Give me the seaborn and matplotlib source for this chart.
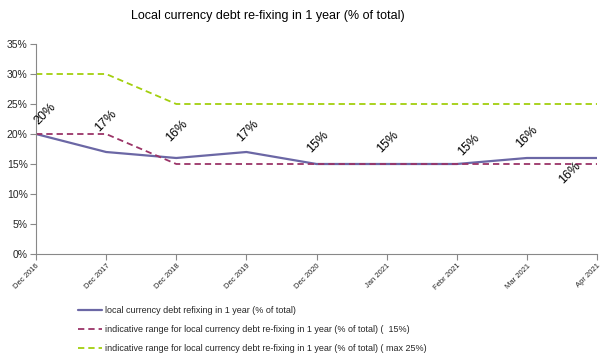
import matplotlib
matplotlib.use("Agg")
import matplotlib.pyplot as plt
import seaborn as sns
import pandas as pd
from matplotlib.ticker import FuncFormatter

# Data
periods = ["Dec 2016", "Dec 2017", "Dec 2018", "Dec 2019", "Dec 2020",
           "Jan 2021", "Febr 2021", "Mar 2021", "Apr 2021"]
refixing_share = [20, 17, 16, 17, 15, 15, 15, 16, 16]
range_min = [20, 20, 15, 15, 15, 15, 15, 15, 15]
range_max = [30, 30, 25, 25, 25, 25, 25, 25, 25]

series_names = [
    "local currency debt refixing in 1 year (% of total)",
    "indicative range for local currency debt re-fixing in 1 year (% of total) (  15%)",
    "indicative range for local currency debt re-fixing in 1 year (% of total) ( max 25%)",
]
title = "Local currency debt re-fixing in 1 year (% of total)"

df = pd.DataFrame({"period": periods, "share": refixing_share,
                   "low": range_min, "high": range_max})

sns.set_theme(style="white")
plt.rcParams["font.family"] = ["Liberation Sans", "DejaVu Sans"]

fig = plt.figure(figsize=(6.05, 3.6), dpi=100)
ax = fig.add_axes([36 / 605, 1 - 254 / 360, 561 / 605, 210 / 360])

c_main = "#6B67A5"
c_low = "#9B3468"
c_high = "#A3CF0E"

sns.lineplot(data=df, x="period", y="share", ax=ax, color=c_main,
             linewidth=1.6, sort=False, label=series_names[0])
sns.lineplot(data=df, x="period", y="low", ax=ax, color=c_low,
             linewidth=1.3, linestyle=(0, (3.5, 2.2)), sort=False,
             label=series_names[1])
sns.lineplot(data=df, x="period", y="high", ax=ax, color=c_high,
             linewidth=1.3, linestyle=(0, (3.5, 2.2)), sort=False,
             label=series_names[2])

ax.set_xlim(0, len(periods) - 1)
ax.set_ylim(0, 35)
ax.set_yticks(range(0, 36, 5))
ax.yaxis.set_major_formatter(FuncFormatter(lambda v, _: f"{v:.0f}%"))
ax.set_xticks(range(len(periods)))
ax.set_xticklabels(periods, rotation=45, ha="right", rotation_mode="anchor",
                   fontsize=5.5)
ax.tick_params(axis="y", labelsize=7.5, length=4, width=0.8, color="#888888",
               pad=2, left=True)
ax.tick_params(axis="x", length=4, width=0.8, color="#888888", pad=2,
               bottom=True)
ax.set_xlabel("")
ax.set_ylabel("")
for side in ("top", "right"):
    ax.spines[side].set_visible(False)
for side in ("left", "bottom"):
    ax.spines[side].set_color("#888888")
    ax.spines[side].set_linewidth(0.8)
ax.grid(False)

# Rotated value labels on the main series (offsets in pixels, screen-down positive)
label_offsets = [(9, -20), (0, -31), (1, -27), (1, -21), (1, -22),
                 (1, -22), (12, -19), (0, -21), (-27, 15)]
for i, (val, (dx, dy)) in enumerate(zip(refixing_share, label_offsets)):
    ax.annotate(f"{val}%", xy=(i, val), xytext=(dx * 0.72, -dy * 0.72),
                textcoords="offset points", ha="center", va="center",
                rotation=45, fontsize=9, color="black")

ax.legend_.remove()
handles, labels = ax.get_legend_handles_labels()
fig.legend(handles, labels, loc="upper left",
           bbox_to_anchor=(78 / 605, 1 - 306 / 360), frameon=False,
           fontsize=6.5, handlelength=2.7, handletextpad=0.25,
           labelspacing=1.1, borderpad=0, borderaxespad=0)

fig.text(268 / 605, 1 - 16 / 360, title, ha="center", va="center",
         fontsize=9, color="black")

fig.savefig("out.png", dpi=100)
